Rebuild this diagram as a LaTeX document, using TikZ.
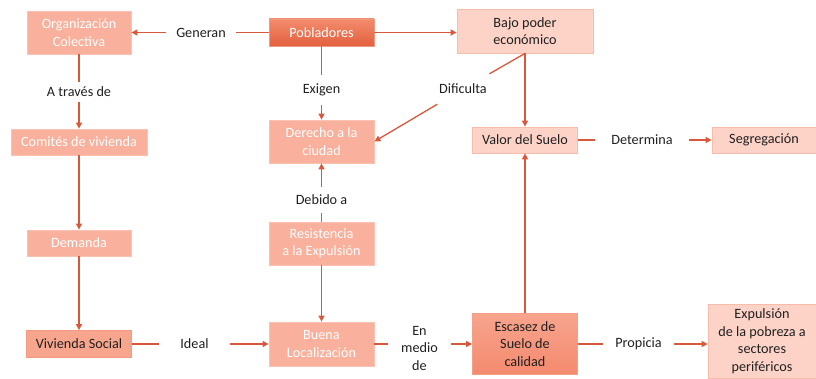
\documentclass[tikz,border=0pt]{standalone}
\usepackage{fontspec}
\setmainfont{Carlito}
\usetikzlibrary{arrows.meta}
\usepackage{xcolor}

\definecolor{lineorange}{HTML}{D9583B}
\definecolor{boxsalmon}{HTML}{F9B19D}
\definecolor{boxsalmonedge}{HTML}{FAC2B2}
\definecolor{boxpink}{HTML}{FDD3C7}
\definecolor{boxpinkedge}{HTML}{F8BCAB}
\definecolor{poblTop}{HTML}{F28C6C}
\definecolor{poblBottom}{HTML}{E3603F}
\definecolor{poblEdge}{HTML}{F09A80}
\definecolor{viviFill}{HTML}{F8A58E}
\definecolor{viviEdge}{HTML}{F39A82}
\definecolor{escaTop}{HTML}{F8A48D}
\definecolor{escaBottom}{HTML}{F38A6E}
\definecolor{escaEdge}{HTML}{F2A08A}
\definecolor{textdark}{HTML}{202020}

\begin{document}
\begin{tikzpicture}[x=1pt,y=-1pt,
    every node/.style={font=\fontsize{14.2}{17.5}\selectfont},
    box/.style={rectangle, inner sep=2pt, align=center, line width=0.8pt},
    salmonbox/.style={box, fill=boxsalmon, draw=boxsalmonedge, text=white},
    pinkbox/.style={box, fill=boxpink, draw=boxpinkedge, text=textdark},
    lbl/.style={inner sep=0pt, align=center, text=textdark},
    link/.style={draw=lineorange, line width=1.3pt},
    arr/.style={link, -{Triangle[length=6pt,width=6pt]}}]
      \useasboundingbox (0,0) rectangle (816,379);

      % Boxes
      \node[salmonbox, minimum width=104pt, minimum height=43pt] (orga) at (79,32.5) {Organización\\Colectiva};
      \node[box, top color=poblTop, bottom color=poblBottom, draw=poblEdge, text=white,
            minimum width=105pt, minimum height=27pt] (pobl) at (321.5,32.5) {Pobladores};
      \node[pinkbox, minimum width=136pt, minimum height=44pt] (bajo) at (525,31) {Bajo poder\\económico};
      \node[salmonbox, minimum width=136pt, minimum height=26pt] (comi) at (79,142) {Comités de vivienda};
      \node[salmonbox, minimum width=105pt, minimum height=43pt] (dere) at (321.5,141.5) {Derecho a la\\ciudad};
      \node[pinkbox, minimum width=105pt, minimum height=26pt] (valor) at (525,140) {Valor del Suelo};
      \node[pinkbox, minimum width=104pt, minimum height=26pt] (segr) at (764,140) {Segregación};
      \node[salmonbox, minimum width=104pt, minimum height=26pt] (dema) at (79,243) {Demanda};
      \node[salmonbox, minimum width=105pt, minimum height=43pt] (resi) at (321.5,243.5) {Resistencia\\a la Expulsión};
      \node[box, fill=viviFill, draw=viviEdge, text=textdark,
            minimum width=105pt, minimum height=27pt] (vivi) at (79,344) {Vivienda Social};
      \node[salmonbox, minimum width=105pt, minimum height=44pt] (buen) at (321.5,344) {Buena\\Localización};
      \node[box, top color=escaTop, bottom color=escaBottom, draw=escaEdge, text=textdark,
            minimum width=105pt, minimum height=61pt] (esca) at (525,344) {Escasez de\\Suelo de\\calidad};
      \node[pinkbox, minimum width=108pt, minimum height=74pt] (expu) at (762,341) {Expulsión\\de la pobreza a\\sectores\\periféricos};

      % Labels
      \node[lbl, minimum width=70pt] (gen) at (201,32.5) {Generan};
      \node[lbl, minimum height=30pt] (exi) at (321.5,90) {Exigen};
      \node[lbl, minimum width=60pt, minimum height=30pt] (dif) at (463,89) {Dificulta};
      \node[lbl, minimum height=20pt] (atr) at (79,92) {A través de};
      \node[lbl, minimum height=26pt] (deb) at (321.5,200) {Debido a};
      \node[lbl, minimum width=94pt] (det) at (642,140) {Determina};
      \node[lbl, minimum width=71pt] (ide) at (194.5,344) {Ideal};
      \node[lbl, minimum width=63pt] (enm) at (419.5,348) {En\\medio\\de};
      \node[lbl, minimum width=71pt] (pro) at (638.5,344) {Propicia};

      % Connectors
      \draw[link] (pobl) -- (gen);
      \draw[arr] (gen) -- (orga);
      \draw[arr] (pobl.east) -- (pobl.east -| bajo.west);
      \draw[link] (pobl) -- (exi);
      \draw[arr] (exi) -- (dere);
      \draw[link] (bajo.south) -- (dif);
      \draw[arr] (dif) -- (dere.east);
      \draw[arr] (bajo.south) -- (valor.north);
      \draw[link] (orga) -- (atr);
      \draw[arr] (atr) -- (comi);
      \draw[arr] (comi) -- (dema);
      \draw[arr] (dema) -- (vivi);
      \draw[link] (resi) -- (deb);
      \draw[arr] (deb) -- (dere);
      \draw[arr] (resi) -- (buen);
      \draw[link] (vivi) -- (ide);
      \draw[arr] (ide) -- (buen);
      \draw[link] (buen.east) -- (buen.east -| enm.west);
      \draw[arr] (buen.east -| enm.east) -- (esca.west);
      \draw[arr] (esca) -- (valor);
      \draw[link] (valor) -- (det);
      \draw[arr] (det) -- (segr);
      \draw[link] (esca) -- (pro);
      \draw[arr] (pro.east) -- (pro.east -| expu.west);
\end{tikzpicture}
\end{document}
